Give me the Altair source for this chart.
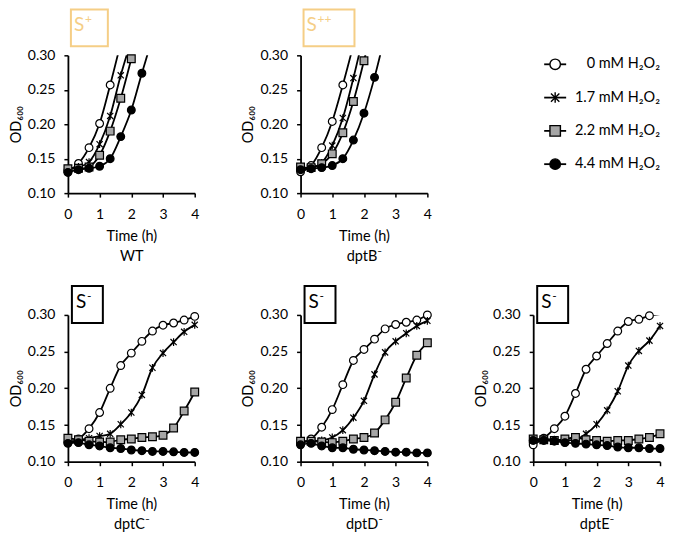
import altair as alt
import pandas as pd

FONT = "Lato"
TAN = "#F5CE86"

# ---------------- data ----------------
times = [0, 1/3, 2/3, 1, 4/3, 5/3, 2, 7/3, 8/3, 3, 10/3, 11/3, 4]
series = ["0 mM", "1.7 mM", "2.2 mM", "4.4 mM"]
legend_labels = ["0 mM H₂O₂", "1.7 mM H₂O₂", "2.2 mM H₂O₂", "4.4 mM H₂O₂"]
x_ticks = [0, 1, 2, 3, 4]
y_ticks = [0.10, 0.15, 0.20, 0.25, 0.30]

strains = ["WT", "dptB⁻", "dptC⁻", "dptD⁻", "dptE⁻"]
phenotype_base = ["S", "S", "S", "S", "S"]
phenotype_sup = ["+", "++", "-", "-", "-"]

wt_0 = [0.133, 0.143, 0.166, 0.201, 0.257, 0.318]
wt_17 = [0.135, 0.138, 0.145, 0.171, 0.212, 0.271, 0.322]
wt_22 = [0.1355, 0.136, 0.138, 0.155, 0.190, 0.2376, 0.295, 0.355]
wt_44 = [0.130, 0.134, 0.136, 0.139, 0.150, 0.182, 0.2206, 0.274, 0.325]

b_0 = [0.131, 0.140, 0.166, 0.204, 0.257, 0.315]
b_17 = [0.136, 0.137, 0.144, 0.169, 0.209, 0.267, 0.332]
b_22 = [0.138, 0.137, 0.1426, 0.157, 0.1875, 0.233, 0.292, 0.355]
b_44 = [0.134, 0.1355, 0.137, 0.140, 0.150, 0.177, 0.216, 0.268, 0.330]

c_0 = [0.126, 0.131, 0.145, 0.167, 0.200, 0.231, 0.248, 0.264, 0.278, 0.286, 0.289, 0.293, 0.298]
c_17 = [0.127, 0.129, 0.132, 0.135, 0.138, 0.151, 0.167, 0.191, 0.228, 0.248, 0.263, 0.277, 0.2865]
c_22 = [0.132, 0.130, 0.128, 0.127, 0.127, 0.130, 0.131, 0.133, 0.134, 0.136, 0.146, 0.169, 0.195]
c_44 = [0.125, 0.126, 0.123, 0.1215, 0.119, 0.118, 0.116, 0.115, 0.114, 0.114, 0.1135, 0.1126, 0.1126]

d_0 = [0.125, 0.131, 0.147, 0.171, 0.205, 0.238, 0.253, 0.267, 0.281, 0.287, 0.290, 0.293, 0.300]
d_17 = [0.127, 0.128, 0.129, 0.133, 0.143, 0.160, 0.183, 0.219, 0.249, 0.264, 0.275, 0.285, 0.292]
d_22 = [0.128, 0.128, 0.127, 0.126, 0.128, 0.131, 0.133, 0.139, 0.157, 0.181, 0.214, 0.245, 0.262]
d_44 = [0.123, 0.125, 0.1215, 0.119, 0.119, 0.117, 0.116, 0.115, 0.114, 0.113, 0.113, 0.112, 0.112]

e_0 = [0.123, 0.132, 0.145, 0.162, 0.193, 0.226, 0.244, 0.261, 0.278, 0.291, 0.294, 0.299, 0.301]
e_17 = [0.130, 0.131, 0.130, 0.129, 0.130, 0.138, 0.151, 0.170, 0.196, 0.231, 0.251, 0.265, 0.285]
e_22 = [0.131, 0.130, 0.129, 0.131, 0.133, 0.130, 0.129, 0.128, 0.129, 0.129, 0.131, 0.133, 0.138]
e_44 = [0.129, 0.129, 0.128, 0.126, 0.125, 0.124, 0.123, 0.122, 0.120, 0.119, 0.119, 0.118, 0.118]

strain_values = {
    "WT": [wt_0, wt_17, wt_22, wt_44],
    "dptB⁻": [b_0, b_17, b_22, b_44],
    "dptC⁻": [c_0, c_17, c_22, c_44],
    "dptD⁻": [d_0, d_17, d_22, d_44],
    "dptE⁻": [e_0, e_17, e_22, e_44],
}

rows = []
for strain in strains:
    for k, (s, vals) in enumerate(zip(series, strain_values[strain])):
        for t, v in zip(times, vals):
            rows.append({"strain": strain, "series": s, "order": k, "t": t, "od": v})
df = pd.DataFrame(rows)

# ---------------- encodings ----------------
CROSS = "M-0.8,-0.8L0.8,0.8M-0.8,0.8L0.8,-0.8M0,-1L0,1"
shape_enc = alt.Shape("series:N", scale=alt.Scale(domain=series, range=["circle", CROSS, "square", "circle"]), legend=None)
fill_enc = alt.Fill("series:N", scale=alt.Scale(domain=series, range=["white", "white", "#A6A6A6", "black"]), legend=None)

W = 127
H_TOP = 138
H_BOT = 147


def panel(i, height):
    strain = strains[i]
    d = df[df.strain == strain]
    top = height == H_TOP
    color = TAN if top else "black"
    x = alt.X("t:Q", scale=alt.Scale(domain=[0, 4], nice=False),
              axis=alt.Axis(values=x_ticks, format="d", title=["Time (h)", strain]))
    y = alt.Y("od:Q", scale=alt.Scale(domain=[0.10, 0.30], nice=False, zero=False),
              axis=alt.Axis(values=y_ticks, format=".2f", title="OD₆₀₀"))
    lines = alt.Chart(d).mark_line(interpolate="cardinal", clip=True, color="black", strokeWidth=1.8).encode(
        x=x, y=y, detail="series:N")
    pts = alt.Chart(d[d.od <= 0.3005]).mark_point(
        filled=True, stroke="black", strokeWidth=1.2, opacity=1, size=60).encode(
        x=x, y=y, shape=shape_enc, fill=fill_enc, order=alt.Order("order:Q"))
    box_df = pd.DataFrame({"base": [phenotype_base[i]], "sup": [phenotype_sup[i]]})
    if top:
        bx0, bx1, by0, by1, tx, ty = 3, 3 + (37 if phenotype_sup[i] == "+" else 51), -46, -9, 6, -30
    else:
        bx0, bx1, by0, by1, tx, ty = 4, 35, -29, 8, 8, -13
    box = alt.Chart(box_df).mark_rect(fill="white", stroke=color, strokeWidth=2).encode(
        x=alt.value(bx0), x2=alt.value(bx1), y=alt.value(by0), y2=alt.value(by1))
    txt = alt.Chart(box_df).mark_text(align="left", baseline="middle", font=FONT, fontSize=19, color=color).encode(
        x=alt.value(tx), y=alt.value(ty), text="base:N")
    sup = alt.Chart(box_df).mark_text(align="left", baseline="middle", font=FONT, fontSize=12, color=color).encode(
        x=alt.value(tx + 11), y=alt.value(ty - 6), text="sup:N")
    return alt.layer(lines, pts, box, txt, sup).properties(width=W, height=height)


# legend panel
leg = pd.DataFrame({"series": series, "label": legend_labels})
ly = alt.Y("series:N", sort=series, scale=alt.Scale(type="point", domain=series, range=[9, 109], padding=0), axis=None)
leg_rule = alt.Chart(leg).mark_rule(color="black", strokeWidth=1.8).encode(x=alt.value(11), x2=alt.value(33), y=ly)
leg_pts = alt.Chart(leg).mark_point(filled=True, stroke="black", strokeWidth=1.4, opacity=1, size=110).encode(
    x=alt.value(22), y=ly, shape=shape_enc, fill=fill_enc)
leg_txt = alt.Chart(leg).mark_text(align="right", baseline="middle", font=FONT, fontSize=14.5, color="black").encode(
    x=alt.value(127), y=ly, text="label:N")
legend_panel = alt.layer(leg_rule, leg_pts, leg_txt).properties(width=W, height=H_TOP)

panels = [
    panel(0, H_TOP),
    panel(1, H_TOP),
    legend_panel,
    panel(2, H_BOT),
    panel(3, H_BOT),
    panel(4, H_BOT),
]

chart = alt.concat(*panels, columns=3, spacing={"row": 122, "column": 106}, bounds="flush", align="each").configure_view(
    stroke=None
).configure_axis(
    grid=False, domainColor="black", domainWidth=1.8, tickColor="black", tickWidth=1.5, tickSize=4,
    labelFont=FONT, labelFontSize=14, labelColor="black", labelFlush=False,
    titleFont=FONT, titleFontSize=14.5, titleFontWeight="normal", titleColor="black",
).configure_axisX(
    labelPadding=10, titlePadding=8, titleLineHeight=20
).configure_axisY(
    labelPadding=9, titlePadding=4
).properties(padding={"left": 0, "right": 0, "top": 0, "bottom": 0})

chart.save("out.html", embed_options={"renderer": "svg", "actions": False})
